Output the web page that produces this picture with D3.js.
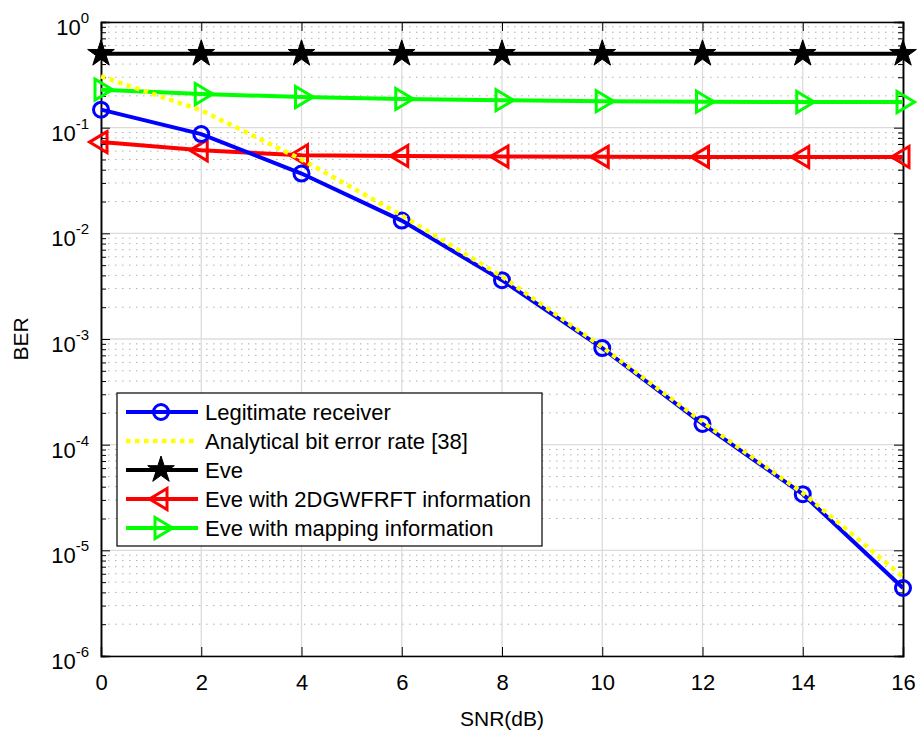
<!DOCTYPE html>
<html>
<head>
<meta charset="utf-8">
<script src="https://cdn.jsdelivr.net/npm/d3@7"></script>
<style>
  body { margin: 0; background: #fff; }
  text { font-family: "Liberation Sans", Arial, Helvetica, sans-serif; fill: #000; }
</style>
</head>
<body>
<svg id="chart"></svg>
<script>
// data
var snr = [0, 2, 4, 6, 8, 10, 12, 14, 16];
var berLegit = [0.148, 0.087, 0.0368, 0.0132, 0.0036, 0.00082, 0.000157, 0.000034, 0.0000044];
var berAnalytic = [0.306, 0.146, 0.050, 0.0148, 0.0039, 0.00084, 0.000164, 0.000035, 0.0000056];
var berEve = [0.5, 0.5, 0.5, 0.5, 0.5, 0.5, 0.5, 0.5, 0.5];
var berEveFrft = [0.073, 0.061, 0.0548, 0.054, 0.0533, 0.053, 0.0529, 0.0528, 0.0528];
var berEveMap = [0.229, 0.208, 0.195, 0.187, 0.182, 0.178, 0.176, 0.175, 0.175];
var xTicks = [0, 2, 4, 6, 8, 10, 12, 14, 16];
var yExponents = [0, -1, -2, -3, -4, -5, -6];
var legendLabels = ["Legitimate receiver", "Analytical bit error rate [38]", "Eve",
                    "Eve with 2DGWFRFT information", "Eve with mapping information"];

var W = 920, H = 736;
// plot box (note: "top" is reserved on window, so use pTop etc.)
var pLeft = 101, pRight = 903, pTop = 22, pBottom = 656;

var svg = d3.select("#chart").attr("width", W).attr("height", H);

var x = d3.scaleLinear().domain([0, 16]).range([pLeft, pRight]);
var y = d3.scaleLog().domain([1e-6, 1]).range([pBottom, pTop]);

// minor values 2..9 in each decade
var minor = [];
yExponents.slice(0, 6).forEach(function (e) {
  for (var k = 2; k <= 9; k++) minor.push(k * Math.pow(10, e - 1));
});
var majors = yExponents.map(function (e) { return Math.pow(10, e); });

// grid
var grid = svg.append("g");
grid.selectAll(".minor").data(minor).enter().append("line")
  .attr("x1", pLeft).attr("x2", pRight)
  .attr("y1", function (d) { return y(d); }).attr("y2", function (d) { return y(d); })
  .style("stroke", "#b0b0b0").style("stroke-width", 1).style("stroke-dasharray", "1.5,5.5");
grid.selectAll(".majorY").data(majors).enter().append("line")
  .attr("x1", pLeft).attr("x2", pRight)
  .attr("y1", function (d) { return y(d); }).attr("y2", function (d) { return y(d); })
  .style("stroke", "#dcdcdc").style("stroke-width", 1.3);
grid.selectAll(".majorX").data(xTicks).enter().append("line")
  .attr("x1", function (d) { return x(d); }).attr("x2", function (d) { return x(d); })
  .attr("y1", pTop).attr("y2", pBottom)
  .style("stroke", "#dcdcdc").style("stroke-width", 1.3);

// axes (ticks point inward)
var xAxis = svg.append("g").attr("transform", "translate(0," + pBottom + ")")
  .call(d3.axisBottom(x).tickValues(xTicks).tickSize(-9).tickPadding(18).tickFormat(d3.format("d")));
svg.append("g").attr("transform", "translate(0," + pTop + ")")
  .call(d3.axisTop(x).tickValues(xTicks).tickSize(-9).tickFormat(""));
svg.append("g").attr("transform", "translate(" + pLeft + ",0)")
  .call(d3.axisLeft(y).tickValues(majors).tickSize(-9).tickFormat(""));
svg.append("g").attr("transform", "translate(" + pRight + ",0)")
  .call(d3.axisRight(y).tickValues(majors).tickSize(-9).tickFormat(""));
svg.append("g").attr("transform", "translate(" + pLeft + ",0)")
  .call(d3.axisLeft(y).tickValues(minor).tickSize(-5).tickFormat(""));
svg.append("g").attr("transform", "translate(" + pRight + ",0)")
  .call(d3.axisRight(y).tickValues(minor).tickSize(-5).tickFormat(""));

svg.selectAll(".domain").style("stroke", "#000").style("stroke-width", 1.5);
svg.selectAll(".tick line").style("stroke", "#000").style("stroke-width", 1);
xAxis.selectAll("text").style("font-size", "22px").style("fill", "#000")
  .style("font-family", "'Liberation Sans', Arial, sans-serif");

// y tick labels as 10^n
yExponents.forEach(function (e) {
  var t = svg.append("text")
    .attr("x", 89).attr("y", y(Math.pow(10, e)) + 13)
    .attr("text-anchor", "end").style("font-size", "22px");
  t.append("tspan").text("10");
  t.append("tspan").attr("dy", -12).style("font-size", "15px").text(String(e));
});

// axis titles
svg.append("text").attr("x", (pLeft + pRight) / 2).attr("y", 726)
  .attr("text-anchor", "middle").style("font-size", "21px").text("SNR(dB)");
svg.append("text").attr("transform", "translate(28," + (pTop + pBottom) / 2 + ") rotate(-90)")
  .attr("text-anchor", "middle").style("font-size", "21px").text("BER");

// markers
function starPath(R) {
  var r = R * 0.382, p = [];
  for (var i = 0; i < 10; i++) {
    var a = -Math.PI / 2 + i * Math.PI / 5, rr = i % 2 === 0 ? R : r;
    p.push([rr * Math.cos(a), rr * Math.sin(a)]);
  }
  return "M" + p.map(function (q) { return q.join(","); }).join("L") + "Z";
}
var triRight = "M-6,-10.5L11.5,0L-6,10.5Z";
var triLeft = "M6,-10.5L-11.5,0L6,10.5Z";

var series = [
  { vals: berLegit, color: "#0000ff", dash: null, marker: "circle" },
  { vals: berAnalytic, color: "#ffff00", dash: "4.5,4.5", marker: null },
  { vals: berEve, color: "#000000", dash: null, marker: "star" },
  { vals: berEveFrft, color: "#ff0000", dash: null, marker: "left" },
  { vals: berEveMap, color: "#00ff00", dash: null, marker: "right" }
];

function drawMarker(g, type, color) {
  if (type === "circle") {
    g.append("circle").attr("r", 7.5).style("fill", "none")
      .style("stroke", color).style("stroke-width", 3);
  } else if (type === "star") {
    g.append("path").attr("d", starPath(14)).style("fill", color)
      .style("stroke", color).style("stroke-width", 1);
  } else if (type === "left" || type === "right") {
    g.append("path").attr("d", type === "left" ? triLeft : triRight)
      .style("fill", "none").style("stroke", color).style("stroke-width", 3)
      .style("stroke-linejoin", "miter");
  }
}

var line = d3.line()
  .x(function (d, i) { return x(snr[i]); })
  .y(function (d) { return y(d); });

var drawOrder = [2, 4, 3, 0, 1];
drawOrder.forEach(function (k) {
  var s = series[k];
  var g = svg.append("g");
  g.append("path").datum(s.vals).attr("d", line)
    .style("fill", "none").style("stroke", s.color)
    .style("stroke-width", s.dash ? 4.5 : 4)
    .style("stroke-dasharray", s.dash);
  if (s.marker) {
    s.vals.forEach(function (v, i) {
      var m = g.append("g").attr("transform", "translate(" + x(snr[i]) + "," + y(v) + ")");
      drawMarker(m, s.marker, s.color);
    });
  }
});

// legend
var lg = svg.append("g");
lg.append("rect").attr("x", 117).attr("y", 393).attr("width", 425).attr("height", 153)
  .style("fill", "#fff").style("stroke", "#000").style("stroke-width", 1.2);
series.forEach(function (s, i) {
  var cy = 412 + i * 29;
  lg.append("line").attr("x1", 126).attr("x2", 198).attr("y1", cy).attr("y2", cy)
    .style("stroke", s.color).style("stroke-width", s.dash ? 4.5 : 4)
    .style("stroke-dasharray", s.dash);
  if (s.marker) {
    var m = lg.append("g").attr("transform", "translate(161," + cy + ")");
    drawMarker(m, s.marker, s.color);
  }
  lg.append("text").attr("x", 205).attr("y", cy + 8).style("font-size", "22px")
    .text(legendLabels[i]);
});
</script>
</body>
</html>
